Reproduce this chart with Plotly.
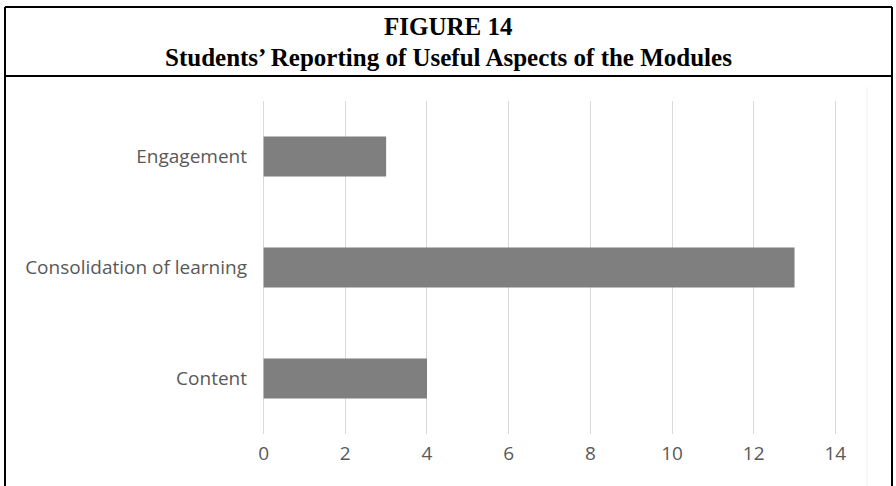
import plotly.graph_objects as go

# Data
aspects = ["Content", "Consolidation of learning", "Engagement"]
counts = [4, 13, 3]
x_ticks = [0, 2, 4, 6, 8, 10, 12, 14]

title_line1 = "FIGURE 14"
title_line2 = "Students\u2019 Reporting of Useful Aspects of the Modules"

W, H = 896, 486
L, R, T, B = 262, 59, 101, 52
plot_w = W - L - R
plot_h = H - T - B


def px_x(px):
    return (px - L) / plot_w


def px_y(py):
    return (H - B - py) / plot_h


fig = go.Figure(
    go.Bar(
        y=aspects,
        x=counts,
        orientation="h",
        marker=dict(color="#7f7f7f", line=dict(width=0)),
        hoverinfo="x+y",
    )
)

label_font = dict(family="Open Sans, sans-serif", size=19, color="#595959")

# small padding so the 0 and 14 gridlines are kept at the plot edges
pad = 0.04

fig.update_layout(
    width=W,
    height=H,
    margin=dict(l=L, r=R, t=T, b=B, pad=0),
    paper_bgcolor="white",
    plot_bgcolor="white",
    showlegend=False,
    bargap=0.64,
    xaxis=dict(
        range=[-pad, 14 + pad],
        tickvals=x_ticks,
        showgrid=True,
        gridcolor="#d9d9d9",
        gridwidth=1,
        zeroline=False,
        showline=False,
        ticks="",
        tickfont=label_font,
        ticklabelstandoff=6,
    ),
    yaxis=dict(
        showgrid=False,
        zeroline=False,
        showline=False,
        ticks="",
        tickfont=label_font,
        ticklabelstandoff=14,
    ),
)

title_font = dict(family="Liberation Serif, Times New Roman, serif", size=25, color="black")
fig.add_annotation(
    text="<b>" + title_line1 + "</b>", x=px_x(448), y=px_y(27),
    xref="paper", yref="paper", showarrow=False, font=title_font,
    xanchor="center", yanchor="middle",
)
fig.add_annotation(
    text="<b>" + title_line2 + "</b>", x=px_x(448), y=px_y(57),
    xref="paper", yref="paper", showarrow=False, font=title_font,
    xanchor="center", yanchor="middle",
)

# Frame around the figure and rule under the title
frame = dict(color="black", width=2)
fig.add_shape(type="line", xref="paper", yref="paper",
              x0=px_x(5), x1=px_x(892), y0=px_y(7), y1=px_y(7), line=frame)
fig.add_shape(type="line", xref="paper", yref="paper",
              x0=px_x(5), x1=px_x(892), y0=px_y(76), y1=px_y(76), line=frame)
fig.add_shape(type="line", xref="paper", yref="paper",
              x0=px_x(5), x1=px_x(5), y0=px_y(7), y1=px_y(490), line=frame)
fig.add_shape(type="line", xref="paper", yref="paper",
              x0=px_x(892), x1=px_x(892), y0=px_y(7), y1=px_y(490), line=frame)
# Faint edge of the chart area
fig.add_shape(type="line", xref="paper", yref="paper",
              x0=px_x(867), x1=px_x(867), y0=px_y(87), y1=px_y(490),
              line=dict(color="#f0f0f0", width=1))

fig.write_html("out.html")
